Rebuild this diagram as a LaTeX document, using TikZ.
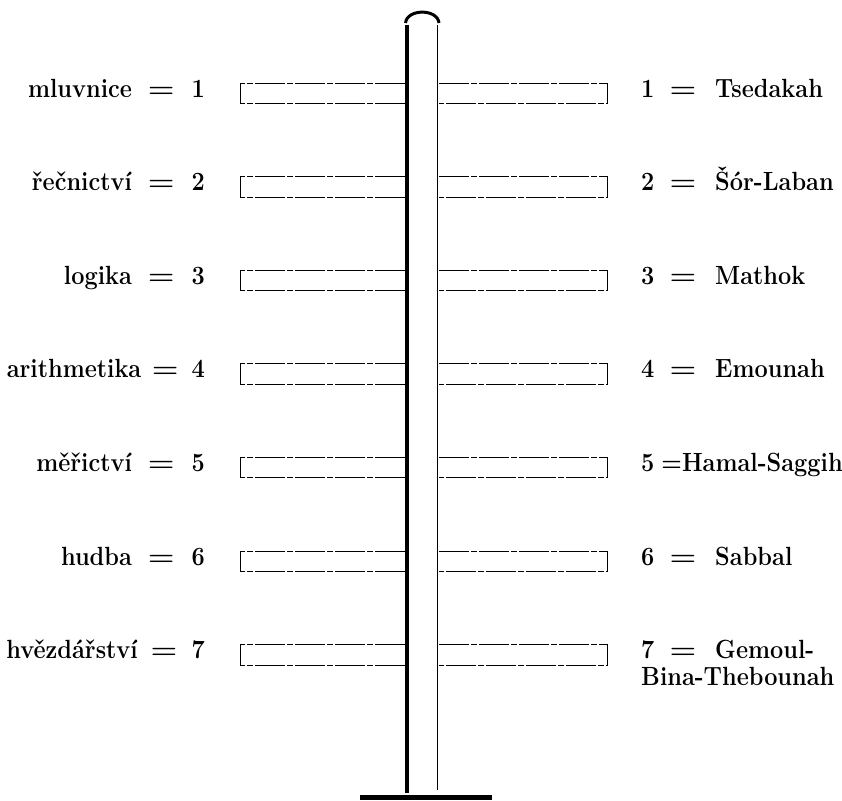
\documentclass[tikz,border=0pt]{standalone}
\newcommand{\myeqsign}{\scalebox{1.3}[1]{=}}
\newcommand{\myeqL}{\hspace{.68em}\myeqsign\hspace{.72em}}
\newcommand{\myeqR}{\hspace{.65em}\myeqsign\hspace{.8em}}
\newcommand{\tx}[1]{\scalebox{1}[1.12]{#1}}
\begin{document}
\begin{tikzpicture}[x=1pt,y=-1pt,
  lbl/.style={font=\fontsize{23.5}{23.5}\selectfont\bfseries, inner sep=0pt},
  rung/.style={line width=1pt, dash pattern=on 30pt off 2pt on 6pt off 2pt},
  pillarthick/.style={line width=4pt},
  pillarthin/.style={line width=1.5pt}]
\useasboundingbox (0,0) rectangle (842,800);
% pillar
\coordinate (pltop) at (407,25);
\coordinate (plbot) at (407,793);
\coordinate (prtop) at (437.5,25);
\coordinate (prbot) at (437.5,790);
\draw[pillarthick] (pltop) -- (plbot);
\draw[pillarthin] (prtop) -- (prbot);
\draw[line width=3pt] (405.5,23) .. controls (407,8.5) and (437.5,8.5) .. (439,23);
% base
\fill (360,795) rectangle (492,800);
% rungs
\foreach \i in {1,...,7}{
  \pgfmathsetmacro{\t}{83+93.6*(\i-1)}
  \pgfmathsetmacro{\b}{\t+20.5}
  \draw[rung] (405,\t) -- (240,\t) -- (240,\b) -- (405,\b);
  \draw[rung] (439,\t) -- (607,\t) -- (607,\b) -- (439,\b);
}
% left labels
\node[lbl, anchor=base east] (l1) at (205,97) {\tx{mluvnice\myeqL 1}};
\node[lbl, anchor=base east] (l2) at (205,190.6) {\tx{řečnictví\myeqL 2}};
\node[lbl, anchor=base east] (l3) at (205,284.2) {\tx{logika\myeqL 3}};
\node[lbl, anchor=base east] (l4) at (205,377.8) {\tx{arithmetika\hspace{.45em}\myeqsign\hspace{.55em}4}};
\node[lbl, anchor=base east] (l5) at (205,471.4) {\tx{měřictví\myeqL 5}};
\node[lbl, anchor=base east] (l6) at (205,565) {\tx{hudba\myeqL 6}};
\node[lbl, anchor=base east] (l7) at (205,658.6) {\tx{hvězdářství\hspace{.55em}\myeqsign\hspace{.6em}7}};
% right labels
\node[lbl, anchor=base west] (r1) at (641,97) {\tx{1\myeqR Tsedakah}};
\node[lbl, anchor=base west] (r2) at (641,190.6) {\tx{2\myeqR Šór-Laban}};
\node[lbl, anchor=base west] (r3) at (641,284.2) {\tx{3\myeqR Mathok}};
\node[lbl, anchor=base west] (r4) at (641,377.8) {\tx{4\myeqR Emounah}};
\node[lbl, anchor=base west] (r5) at (641,471.4) {\tx{5\hspace{.3em}=Hamal-Saggih}};
\node[lbl, anchor=base west] (r6) at (641,565) {\tx{6\myeqR Sabbal}};
\node[lbl, anchor=north west, align=left] (r7) at (641,640) {\tx{7\myeqR Gemoul-}\\[3pt]\tx{Bina-Thebounah}};
\end{tikzpicture}
\end{document}
